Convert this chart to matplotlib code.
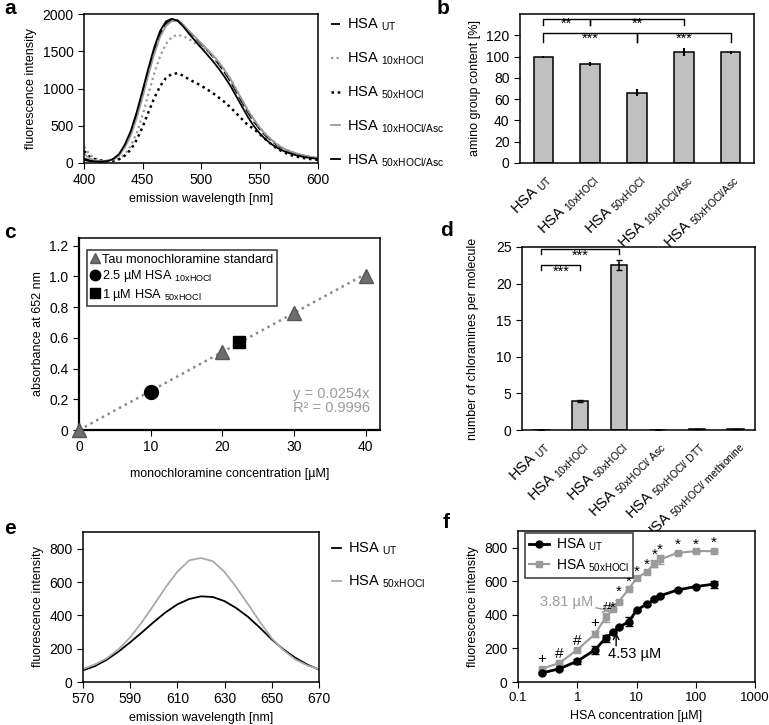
import numpy as np
import matplotlib.pyplot as plt
from matplotlib.lines import Line2D
from matplotlib.ticker import FuncFormatter, NullLocator

plt.rcParams['font.family'] = ['Liberation Sans', 'DejaVu Sans']
plt.rcParams['mathtext.fontset'] = 'custom'
plt.rcParams['mathtext.rm'] = 'Liberation Sans'
plt.rcParams['mathtext.default'] = 'regular'
plt.rcParams['font.size'] = 10
plt.rcParams['axes.linewidth'] = 1.1
plt.rcParams['xtick.direction'] = 'out'
plt.rcParams['ytick.direction'] = 'out'
plt.rcParams['xtick.major.size'] = 4
plt.rcParams['ytick.major.size'] = 4

W, H = 769, 725

# ---- panel a: emission spectra (400-600 nm, 5 nm steps)
wl_a = list(range(400, 605, 5))
a_ut = [60, 35, 25, 20, 25, 50, 110, 230, 400, 640, 920, 1220, 1500, 1730, 1870, 1925, 1915,
        1850, 1760, 1680, 1600, 1520, 1430, 1330, 1220, 1100, 960, 820, 680, 560, 460, 370,
        300, 240, 190, 160, 130, 110, 90, 75, 65]
a_10x = [220, 110, 60, 40, 30, 35, 60, 120, 230, 400, 640, 920, 1200, 1430, 1600, 1690, 1720,
         1700, 1660, 1610, 1560, 1510, 1440, 1350, 1250, 1130, 990, 850, 710, 590, 480, 390,
         315, 250, 200, 165, 135, 110, 90, 75, 65]
a_50x = [160, 80, 45, 30, 25, 30, 50, 100, 180, 310, 480, 680, 870, 1030, 1140, 1195, 1205,
         1170, 1120, 1080, 1040, 990, 940, 880, 820, 750, 670, 590, 510, 460, 390, 320,
         255, 195, 150, 115, 90, 75, 60, 50, 42]
a_10x_asc = [120, 60, 35, 25, 25, 45, 100, 210, 370, 600, 880, 1180, 1460, 1690, 1840, 1905,
             1905, 1850, 1770, 1690, 1610, 1530, 1450, 1360, 1250, 1130, 990, 850, 710, 590,
             480, 390, 315, 250, 200, 165, 135, 115, 95, 80, 70]
a_50x_asc = [40, 25, 20, 18, 25, 55, 120, 250, 430, 680, 970, 1270, 1550, 1770, 1900, 1935,
             1910, 1830, 1730, 1640, 1550, 1460, 1370, 1270, 1160, 1040, 900, 760, 620, 500,
             400, 320, 255, 205, 165, 135, 110, 90, 75, 65, 55]

# ---- panel b: amino group content
b_values = [100, 93, 66, 104.5, 104]
b_err = [1, 1.5, 3.5, 3.5, 1.5]
b_labels = ['HSA $_{UT}$', 'HSA $_{10xHOCl}$', 'HSA $_{50xHOCl}$',
            'HSA $_{10xHOCl/Asc}$', 'HSA $_{50xHOCl/Asc}$']

# ---- panel c: monochloramine standard
c_std_x = [0, 20, 30, 40]
c_std_y = [0, 0.51, 0.76, 1.0]
c_10x = (10, 0.25)
c_50x = (22.3, 0.57)
c_slope = 0.0254

# ---- panel d: chloramines per molecule
d_values = [0.02, 4.0, 22.5, 0.02, 0.15, 0.15]
d_err = [0, 0.15, 0.7, 0, 0.05, 0.05]
d_labels = ['HSA $_{UT}$', 'HSA $_{10xHOCl}$', 'HSA $_{50xHOCl}$',
            'HSA $_{50xHOCl/\\ Asc}$', 'HSA $_{50xHOCl/\\ DTT}$',
            'HSA $_{50xHOCl/\\ methionine}$']

# ---- panel e: emission spectra (570-670 nm)
wl_e = list(range(570, 675, 5))
e_ut = [70, 95, 133, 182, 238, 298, 360, 418, 466, 498, 514, 510, 485, 443, 390, 325,
        255, 195, 145, 105, 74]
e_50x = [78, 105, 142, 195, 268, 360, 462, 568, 662, 730, 744, 725, 660, 568, 465, 360,
         262, 190, 135, 100, 76]

# ---- panel f: titration
f_conc = [0.25, 0.5, 1, 2, 3, 4, 5, 7.5, 10, 15, 20, 25, 50, 100, 200]
f_ut = [53, 79, 124, 192, 261, 296, 326, 360, 429, 464, 494, 514, 549, 569, 583]
f_ut_err = [8, 5, 15, 25, 20, 5, 5, 25, 8, 8, 5, 5, 5, 5, 20]
f_50x = [79, 113, 192, 286, 385, 435, 478, 557, 618, 658, 705, 731, 770, 780, 780]
f_50x_err = [5, 5, 8, 20, 25, 8, 8, 8, 8, 8, 20, 25, 5, 5, 5]
f_marks = [(0.25, 138, '+'), (0.5, 164, '#'), (1, 247, '#'), (2, 352, '+'),
           (3.2, 440, '#'), (3.9, 440, '*'), (5, 535, '*'), (7.5, 598, '*'),
           (10, 658, '*'), (15, 700, '*'), (20, 758, '*'), (25, 790, '*'),
           (50, 815, '*'), (100, 818, '*'), (200, 828, '*')]

GRAY = '#9a9a9a'
BAR = '#c0c0c0'


def px_axes(fig, left, top, right, bottom, **kw):
    return fig.add_axes([left / W, 1 - bottom / H, (right - left) / W, (bottom - top) / H], **kw)


def bracket(ax, x1, x2, y, drop, label, label_y):
    ax.plot([x1, x1, x2, x2], [y - drop, y, y, y - drop], color='black', lw=1)
    ax.text((x1 + x2) / 2, label_y, label, ha='center', va='center', fontsize=10.5)


fig = plt.figure(figsize=(W / 100, H / 100), dpi=100)

# ================= a
ax = px_axes(fig, 84, 14, 318, 163)
ax.plot(wl_a, a_ut, color='black', lw=1.3, ls=(0, (6, 2)), label='HSA $_{UT}$')
ax.plot(wl_a, a_10x, color=GRAY, lw=1.6, ls=(0, (1, 1.5)), label='HSA $_{10xHOCl}$')
ax.plot(wl_a, a_50x, color='black', lw=1.8, ls=(0, (1, 1.5)), label='HSA $_{50xHOCl}$')
ax.plot(wl_a, a_10x_asc, color=GRAY, lw=1.3, label='HSA $_{10xHOCl/Asc}$')
ax.plot(wl_a, a_50x_asc, color='black', lw=1.3, label='HSA $_{50xHOCl/Asc}$')
ax.set_xlim(400, 600)
ax.set_ylim(0, 2000)
ax.set_xticks([400, 450, 500, 550, 600])
ax.set_yticks([0, 500, 1000, 1500, 2000])
ax.set_xlabel('emission wavelength [nm]', fontsize=9)
ax.set_ylabel('fluorescence intensity', fontsize=9)
ax.legend(loc='upper left', bbox_to_anchor=(1.03, 1.02), frameon=False, handlelength=0.6,
          labelspacing=1.2, handletextpad=0.5, borderaxespad=0, fontsize=10.5)

# ================= b
ax = px_axes(fig, 520, 14, 754, 163)
xb = np.arange(len(b_values))
ax.bar(xb, b_values, width=0.42, color=BAR, edgecolor='black', lw=1.1)
ax.errorbar(xb, b_values, yerr=b_err, fmt='none', ecolor='black', elinewidth=1.5, capsize=0)
ax.set_xlim(-0.5, 4.5)
ax.set_ylim(0, 140)
ax.set_yticks(range(0, 121, 20))
ax.set_xticks(xb)
ax.set_xticklabels(b_labels, rotation=45, ha='right', rotation_mode='anchor', fontsize=10.5)
ax.tick_params(axis='x', length=0, pad=6)
ax.set_ylabel('amino group content [%]', fontsize=9)
bracket(ax, 0, 1, 135, 5, '**', 131)
bracket(ax, 1, 3, 135, 5, '**', 131)
bracket(ax, 0, 2, 122, 8, '***', 116.5)
bracket(ax, 2, 4, 122, 8, '***', 116.5)

# ================= c
ax = px_axes(fig, 79, 238, 380, 430)
xs = np.array([0, 40])
ax.plot(xs, c_slope * xs, color='#8a8a8a', lw=1.8, ls=(0, (1, 1.6)), zorder=1)
ax.plot(c_std_x, c_std_y, ls='none', marker='^', ms=10, color='#6e6e6e', mec='#555555',
        clip_on=False, zorder=3, label='Tau monochloramine standard')
ax.plot(*c_10x, ls='none', marker='o', ms=10, color='black', zorder=3,
        label='2.5 µM HSA $_{10xHOCl}$')
ax.plot(*c_50x, ls='none', marker='s', ms=9, color='black', zorder=3,
        label='1 µM HSA $_{50xHOCl}$')
ax.set_xlim(0, 42)
ax.set_ylim(0, 1.25)
ax.set_xticks([0, 10, 20, 30, 40])
ax.set_yticks([0, 0.2, 0.4, 0.6, 0.8, 1.0, 1.2])
ax.yaxis.set_major_formatter(FuncFormatter(lambda v, p: '0' if v == 0 else f'{v:.1f}'))
ax.spines['left'].set_linewidth(1.6)
ax.spines['bottom'].set_linewidth(1.6)
ax.set_xlabel('monochloramine concentration [µM]', fontsize=9, labelpad=10)
ax.set_ylabel('absorbance at 652 nm', fontsize=9)
ax.text(40.6, 0.19, 'y = 0.0254x\nR² = 0.9996', color=GRAY, ha='right', va='center',
        fontsize=10.5, linespacing=1.05)
leg = ax.legend(loc='upper left', bbox_to_anchor=(0.027, 0.935), frameon=True, fancybox=False,
                handlelength=0.7, handletextpad=0.25, labelspacing=0.2, borderpad=0.25,
                borderaxespad=0, fontsize=9.2, markerscale=0.75)
leg.get_frame().set_edgecolor('black')
leg.get_frame().set_linewidth(1.1)

# ================= d
ax = px_axes(fig, 522, 247, 755, 430)
xd = np.arange(len(d_values))
ax.bar(xd, d_values, width=0.42, color=BAR, edgecolor='black', lw=1.1)
ax.errorbar(xd, d_values, yerr=d_err, fmt='none', ecolor='black', elinewidth=1.1, capsize=2)
ax.set_xlim(-0.5, 5.5)
ax.set_ylim(0, 25)
ax.set_yticks([0, 5, 10, 15, 20, 25])
ax.set_xticks(xd)
ax.set_xticklabels(d_labels, rotation=45, ha='right', rotation_mode='anchor', fontsize=10.5)
ax.tick_params(axis='x', length=0, pad=6)
ax.set_ylabel('number of chloramines per molecule', fontsize=9, labelpad=12)
bracket(ax, 0, 1, 22.6, 0.7, '***', 21.6)
bracket(ax, 0, 2, 24.7, 0.7, '***', 23.8)

# ================= e
ax = px_axes(fig, 83, 532, 319, 682)
ax.plot(wl_e, e_ut, color='black', lw=1.3, label='HSA $_{UT}$')
ax.plot(wl_e, e_50x, color='#aaaaaa', lw=1.3, label='HSA $_{50xHOCl}$')
ax.set_xlim(570, 670)
ax.set_ylim(0, 900)
ax.set_xticks(range(570, 671, 20))
ax.set_yticks(range(0, 801, 200))
ax.set_xlabel('emission wavelength [nm]', fontsize=9)
ax.set_ylabel('fluorescence intensity', fontsize=9)
ax.legend(loc='upper left', bbox_to_anchor=(1.03, 0.98), frameon=False, handlelength=0.6,
          labelspacing=1.15, handletextpad=0.5, borderaxespad=0, fontsize=10.5)

# ================= f
ax = px_axes(fig, 518, 531, 755, 682)
ax.errorbar(f_conc, f_50x, yerr=f_50x_err, color=GRAY, lw=1.5, marker='s', ms=4,
            ecolor=GRAY, elinewidth=1.5, capsize=3, label='HSA $_{50xHOCl}$')
ax.errorbar(f_conc, f_ut, yerr=f_ut_err, color='black', lw=2, marker='o', ms=5,
            ecolor='black', elinewidth=1.5, capsize=3, label='HSA $_{UT}$')
for xm, ym, s in f_marks:
    ax.text(xm, ym, s, ha='center', va='center', fontsize=11)
ax.annotate('3.81 µM', xy=(3.6, 425), xytext=(1.85, 478), color=GRAY, fontsize=10.5,
            ha='right', va='center',
            arrowprops=dict(arrowstyle='->', color=GRAY, lw=1, shrinkA=0, shrinkB=0))
ax.annotate('', xy=(4.53, 295), xytext=(4.53, 215),
            arrowprops=dict(arrowstyle='->', color='black', lw=1, shrinkA=0, shrinkB=0))
ax.text(3.3, 164, '4.53 µM', color='black', fontsize=10.5, ha='left', va='center')
ax.set_xscale('log')
ax.set_xlim(0.1, 1000)
ax.set_ylim(0, 900)
ax.set_xticks([0.1, 1, 10, 100, 1000])
ax.set_xticklabels(['0.1', '1', '10', '100', '1000'], fontsize=9.5)
ax.xaxis.set_minor_locator(NullLocator())
ax.set_yticks(range(0, 801, 200))
ax.set_xlabel('HSA concentration [µM]', fontsize=9)
ax.set_ylabel('fluorescence intensity', fontsize=9)
handles = [Line2D([], [], color='black', lw=2, marker='o', ms=5),
           Line2D([], [], color=GRAY, lw=1.5, marker='s', ms=4)]
leg = ax.legend(handles, ['HSA $_{UT}$', 'HSA $_{50xHOCl}$'], loc='upper left',
                bbox_to_anchor=(0.03, 0.99), frameon=True, fancybox=False, handlelength=1.4,
                handletextpad=0.5, labelspacing=0.3, borderpad=0.3, borderaxespad=0,
                fontsize=10)
leg.get_frame().set_edgecolor('black')
leg.get_frame().set_linewidth(1.1)

# panel letters
for letter, x, y in [('a', 4, 8), ('b', 437, 8), ('c', 4, 233), ('d', 440, 230),
                     ('e', 4, 528), ('f', 443, 523)]:
    fig.text(x / W, 1 - y / H, letter, fontsize=15, fontweight='bold', va='center', ha='left')

fig.savefig('out.png', dpi=100)
